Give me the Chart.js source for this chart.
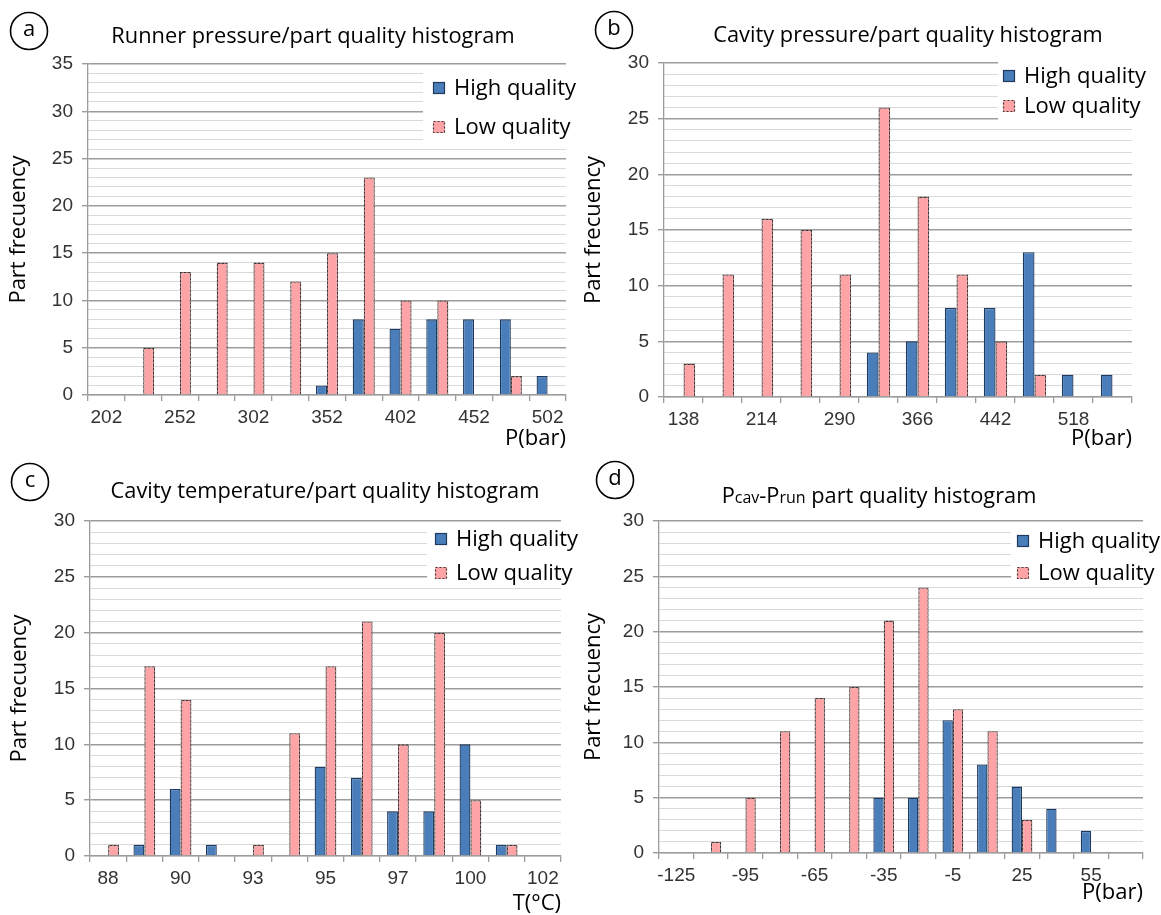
<!DOCTYPE html>
<html>
<head>
<meta charset="utf-8">
<script src="https://cdn.jsdelivr.net/npm/chart.js@4.4.0/dist/chart.umd.min.js"></script>
<style>
  html, body { margin: 0; padding: 0; background: #fff; }
  #wrap { position: relative; width: 1161px; height: 915px; overflow: hidden; }
  .panel { position: absolute; }
</style>
</head>
<body>
<div id="wrap">
  <div class="panel" style="left:0;top:0"><canvas id="chartA" width="580" height="450"></canvas></div>
  <div class="panel" style="left:580px;top:0"><canvas id="chartB" width="581" height="450"></canvas></div>
  <div class="panel" style="left:0;top:450px"><canvas id="chartC" width="580" height="465"></canvas></div>
  <div class="panel" style="left:580px;top:450px"><canvas id="chartD" width="581" height="465"></canvas></div>
</div>
<script>
// (a) runner pressure, bar
var runnerBins = [202, 227, 252, 277, 302, 327, 352, 377, 402, 427, 452, 477, 502];
var runnerHigh = [0, 0, 0, 0, 0, 0, 1, 8, 7, 8, 8, 8, 2];
var runnerLow  = [0, 5, 13, 14, 14, 12, 15, 23, 10, 10, 0, 2, 0];

// (b) cavity pressure, bar
var cavityPBins = [138, 176, 214, 252, 290, 328, 366, 404, 442, 480, 518, 556];
var cavityPHigh = [0, 0, 0, 0, 0, 4, 5, 8, 8, 13, 2, 2];
var cavityPLow  = [3, 11, 16, 15, 11, 26, 18, 11, 5, 2, 0, 0];

// (c) cavity temperature, degC
var cavityTBins = [88, 89, 90, 91, 93, 94, 95, 96, 97, 98, 100, 101, 102];
var cavityTHigh = [0, 1, 6, 1, 0, 0, 8, 7, 4, 4, 10, 1, 0];
var cavityTLow  = [1, 17, 14, 0, 1, 11, 17, 21, 10, 20, 5, 1, 0];

// (d) Pcav - Prun, bar
var deltaBins = [-125, -110, -95, -80, -65, -50, -35, -20, -5, 10, 25, 40, 55, 70];
var deltaHigh = [0, 0, 0, 0, 0, 0, 5, 5, 12, 8, 6, 4, 2, 0];
var deltaLow  = [0, 1, 5, 11, 14, 15, 21, 24, 13, 11, 3, 0, 0, 0];

var seriesNames = ['High quality', 'Low quality'];

var FONT = '"Open Sans", "Noto Sans", sans-serif';
var TICKFONT = '"Liberation Sans", Arial, sans-serif';
var BLUE = '#4a7ebb', BLUE_EDGE = '#1f3a5f', PINK = '#ffa4a6', PINK_EDGE = '#3a3a3a';
var MAJOR = '#9c9c9c', MINOR = '#d9d9d9';

function dashPattern(ctx) {
  var c = document.createElement('canvas');
  c.width = 4; c.height = 4;
  var g = c.getContext('2d');
  g.fillStyle = '#8a6a6a'; g.fillRect(0, 0, 4, 4);
  g.fillStyle = PINK_EDGE; g.fillRect(0, 0, 2, 2); g.fillRect(2, 2, 2, 2);
  return ctx.createPattern(c, 'repeat');
}

// circled letter + title (title may have smaller sub-parts)
var panelDecor = {
  id: 'panelDecor',
  afterDraw: function (chart, args, o) {
    var ctx = chart.ctx;
    ctx.save();
    ctx.beginPath();
    ctx.arc(o.cx, o.cy, 18.5, 0, Math.PI * 2);
    ctx.lineWidth = 1.6;
    ctx.strokeStyle = '#000';
    ctx.stroke();
    ctx.fillStyle = '#000';
    ctx.font = '22px ' + FONT;
    ctx.textAlign = 'center';
    ctx.textBaseline = 'middle';
    ctx.fillText(o.letter, o.cx, o.cy - 1);

    var total = 0;
    o.title.forEach(function (seg) {
      ctx.font = seg[1] + 'px ' + FONT;
      seg.w = ctx.measureText(seg[0]).width;
      total += seg.w;
    });
    var x = o.tx - total / 2;
    ctx.textAlign = 'left';
    ctx.textBaseline = 'alphabetic';
    o.title.forEach(function (seg) {
      ctx.font = seg[1] + 'px ' + FONT;
      ctx.fillText(seg[0], x, o.ty);
      x += seg.w;
    });
    ctx.restore();
  }
};

// legend on a white box inside the plot, top right
var boxLegend = {
  id: 'boxLegend',
  beforeDatasetsDraw: function (chart, args, o) {
    var ctx = chart.ctx;
    ctx.save();
    ctx.fillStyle = '#fff';
    ctx.fillRect(o.boxLeft, o.boxTop, chart.width - o.boxLeft, o.boxBottom - o.boxTop);
    ctx.restore();
  },
  afterDraw: function (chart, args, o) {
    var ctx = chart.ctx;
    ctx.save();
    chart.data.datasets.forEach(function (ds, i) {
      var y = o.rows[i];
      ctx.fillStyle = i === 0 ? BLUE : PINK;
      ctx.fillRect(o.x, y - 6, 12, 12);
      ctx.lineWidth = 1.2;
      ctx.strokeStyle = i === 0 ? BLUE_EDGE : PINK_EDGE;
      ctx.setLineDash(i === 0 ? [] : [2, 2]);
      ctx.strokeRect(o.x + 0.5, y - 5.5, 11, 11);
      ctx.setLineDash([]);
      ctx.fillStyle = '#000';
      ctx.font = '22px ' + FONT;
      ctx.textAlign = 'left';
      ctx.textBaseline = 'middle';
      ctx.fillText(ds.label, o.x + 21, y + 1);
    });
    ctx.restore();
  }
};

function makeChart(p) {
  var canvas = document.getElementById(p.id);
  var ctx = canvas.getContext('2d');
  var W = canvas.width, H = canvas.height;
  return new Chart(ctx, {
    type: 'bar',
    data: {
      labels: p.bins,
      datasets: [
        { label: seriesNames[0], data: p.high, backgroundColor: BLUE, borderColor: BLUE_EDGE,
          borderWidth: 1.3, borderSkipped: 'start', categoryPercentage: 0.6, barPercentage: 1.0 },
        { label: seriesNames[1], data: p.low, backgroundColor: PINK, borderColor: dashPattern(ctx),
          borderWidth: 1.3, borderSkipped: 'start', categoryPercentage: 0.6, barPercentage: 1.0 }
      ]
    },
    options: {
      responsive: false,
      animation: false,
      events: [],
      layout: { padding: { top: p.area.top, right: W - p.area.right, bottom: 0, left: 0 } },
      plugins: {
        legend: { display: false },
        tooltip: { enabled: false },
        title: { display: false },
        panelDecor: p.decor,
        boxLegend: p.legend
      },
      scales: {
        x: {
          afterFit: function (s) { s.height = H - p.area.bottom; },
          grid: { drawOnChartArea: false, drawTicks: true, tickLength: 6, color: MAJOR, lineWidth: 1.3, offset: true },
          border: { color: MAJOR, width: 1.3 },
          ticks: {
            autoSkip: false, maxRotation: 0, padding: 5, color: '#333',
            font: { family: TICKFONT, size: 19 },
            callback: function (v, i) { return i % 2 === 0 ? this.getLabelForValue(v) : ''; }
          },
          title: { display: true, text: p.xTitle, align: 'end', color: '#000',
            font: { family: FONT, size: 22, lineHeight: 1 }, padding: { top: 0, bottom: p.xTitlePad } }
        },
        y: {
          min: 0, max: p.yMax,
          afterFit: function (s) { s.width = p.area.left; },
          grid: {
            drawTicks: true, tickLength: 6,
            color: function (c) { return c.tick && c.tick.value % 5 === 0 ? MAJOR : MINOR; },
            lineWidth: function (c) { return c.tick && c.tick.value % 5 === 0 ? 1.4 : 1; },
            tickColor: function (c) { return c.tick && c.tick.value % 5 === 0 ? MAJOR : 'rgba(0,0,0,0)'; }
          },
          border: { color: MAJOR, width: 1.3 },
          ticks: {
            stepSize: 1, autoSkip: false, padding: 9, color: '#333',
            font: { family: TICKFONT, size: 19 },
            callback: function (v) { return v % 5 === 0 ? v : ''; }
          },
          title: { display: true, text: 'Part frecuency', color: '#000',
            font: { family: FONT, size: 22, lineHeight: 1 }, padding: { top: p.yTitlePad, bottom: 0 } }
        }
      }
    },
    plugins: [panelDecor, boxLegend]
  });
}

var panels = [
  { id: 'chartA', bins: runnerBins, high: runnerHigh, low: runnerLow, yMax: 35, xTitle: 'P(bar)',
    area: { left: 88, top: 64, right: 566, bottom: 395 }, xTitlePad: 0, yTitlePad: 8,
    decor: { letter: 'a', cx: 29, cy: 31, tx: 313, ty: 43,
      title: [['Runner pressure/part quality histogram', 21.8]] },
    legend: { x: 433, rows: [88, 127], boxLeft: 423, boxTop: 68, boxBottom: 147 } },
  { id: 'chartB', bins: cavityPBins, high: cavityPHigh, low: cavityPLow, yMax: 30, xTitle: 'P(bar)',
    area: { left: 84, top: 63, right: 552, bottom: 397 }, xTitlePad: 0, yTitlePad: 3,
    decor: { letter: 'b', cx: 34, cy: 30, tx: 328, ty: 42,
      title: [['Cavity pressure/part quality histogram', 21.8]] },
    legend: { x: 423, rows: [76, 106], boxLeft: 418, boxTop: 60, boxBottom: 120 } },
  { id: 'chartC', bins: cavityTBins, high: cavityTHigh, low: cavityTLow, yMax: 30, xTitle: 'T(°C)',
    area: { left: 90, top: 71, right: 561, bottom: 406 }, xTitlePad: 0, yTitlePad: 9,
    decor: { letter: 'c', cx: 30, cy: 32, tx: 325, ty: 48,
      title: [['Cavity temperature/part quality histogram', 21.8]] },
    legend: { x: 435, rows: [89, 123], boxLeft: 427, boxTop: 75, boxBottom: 137 } },
  { id: 'chartD', bins: deltaBins, high: deltaHigh, low: deltaLow, yMax: 30, xTitle: 'P(bar)',
    area: { left: 79, top: 71, right: 563, bottom: 403 }, xTitlePad: 11, yTitlePad: 3,
    decor: { letter: 'd', cx: 35, cy: 30, tx: 299, ty: 53,
      title: [['P', 21.8], ['cav', 16], ['-P', 21.8], ['run', 16], [' part quality histogram', 21.8]] },
    legend: { x: 437, rows: [91, 123], boxLeft: 431, boxTop: 75, boxBottom: 134 } }
];

function drawAll() { panels.forEach(makeChart); }

if (document.fonts && document.fonts.load) {
  Promise.all([
    document.fonts.load('20px "Open Sans"'),
    document.fonts.load('18px "Liberation Sans"')
  ]).then(drawAll, drawAll);
} else {
  drawAll();
}
</script>
</body>
</html>
